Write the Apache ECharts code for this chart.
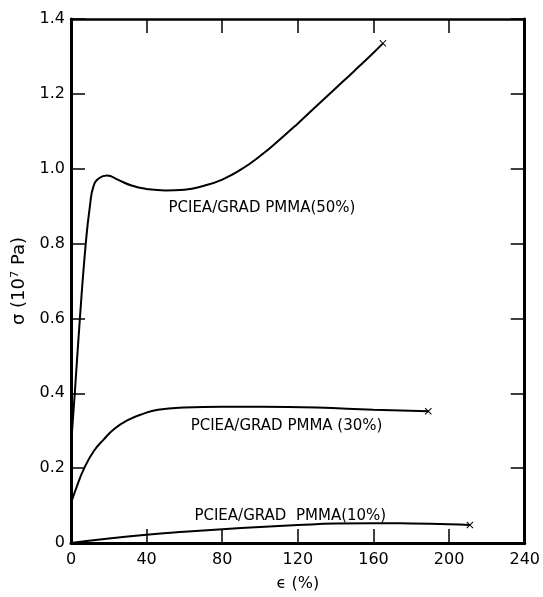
<!DOCTYPE html>
<html><head><meta charset="utf-8">
<script src="https://cdn.jsdelivr.net/npm/echarts@6/dist/echarts.min.js"></script>
<style>html,body{margin:0;padding:0;background:#fff}#c{width:543px;height:597px}</style>
</head><body><div id="c"></div>
<script>
// strain (%), stress (10^7 Pa)
const pmma50 = [[0,0.26],[2,0.4],[4.7,0.6],[7.8,0.8],[10,0.9],[12,0.955],[15,0.975],[19,0.982],[25,0.97],[32,0.955],[40,0.946],[50,0.942],[60,0.944],[70,0.954],[80,0.971],[90,0.998],[100,1.034],[110,1.076],[120,1.121],[130,1.168],[140,1.215],[150,1.262],[160,1.31],[165,1.335]];
const pmma30 = [[0,0.106],[3,0.15],[7,0.2],[12,0.245],[17,0.275],[23,0.305],[30,0.328],[38,0.345],[46,0.356],[60,0.362],[80,0.364],[100,0.364],[130,0.362],[160,0.356],[189,0.352]];
const pmma10 = [[0,0],[20,0.012],[40,0.022],[60,0.03],[80,0.037],[100,0.043],[120,0.048],[140,0.052],[160,0.053],[180,0.052],[200,0.05],[211,0.048]];
const seriesNames = ['PCIEA/GRAD PMMA(50%)','PCIEA/GRAD PMMA (30%)','PCIEA/GRAD  PMMA(10%)'];
const labelAnchors = [[101,0.894],[114,0.312],[116,0.071]];
const xTicks = [0,40,80,120,160,200,240];
const yTickLabels = ['0','0.2','0.4','0.6','0.8','1.0','1.2','1.4'];

const FONT = 'DejaVu Sans';
const cross = 'path://M0,1L1,0L5,4L9,0L10,1L6,5L10,9L9,10L5,6L1,10L0,9L4,5Z';
const chart = echarts.init(document.getElementById('c'));
function mk(data, name, anchor){
  return {
    type:'line', name, data, smooth:0.5, showSymbol:true,
    symbol:(v,p)=> p.dataIndex===data.length-1 ? cross : 'none',
    symbolSize:7,
    lineStyle:{color:'#000',width:2},
    itemStyle:{color:'#000'},
    animation:false,
    markPoint:{symbol:'circle',symbolSize:0,silent:true,
      data:[{coord:anchor,label:{show:true,formatter:name,color:'#000',fontFamily:FONT,fontSize:15,position:'inside'}}]}
  };
}
const s50 = mk(pmma50, seriesNames[0], labelAnchors[0]);
const s30 = mk(pmma30, seriesNames[1], labelAnchors[1]);
const s10 = mk(pmma10, seriesNames[2], labelAnchors[2]);
const tick = {inside:true,length:14,lineStyle:{color:'#000',width:1.5}};
chart.setOption({
  animation:false,
  grid:{left:71,right:10,top:19,bottom:49},
  xAxis:[{type:'value',min:0,max:240,interval:40,position:'bottom',
    name:'\u03F5 (%)',nameLocation:'middle',nameGap:33,
    nameTextStyle:{color:'#000',fontFamily:FONT,fontSize:16},
    axisLine:{onZero:false,lineStyle:{color:'#000',width:3}},
    axisTick:tick,
    axisLabel:{color:'#000',fontFamily:FONT,fontSize:16,margin:9,formatter:v=>xTicks.includes(v)?String(v):''},
    splitLine:{show:false}},
   {type:'value',min:0,max:240,interval:40,position:'top',
    axisLine:{onZero:false,lineStyle:{color:'#000',width:2.5}},
    axisTick:tick,
    axisLabel:{show:false},splitLine:{show:false}}],
  yAxis:[{type:'value',min:0,max:1.4,interval:0.2,position:'left',
    name:'\u03C3 (10\u2077 Pa)',nameLocation:'middle',nameGap:32,nameRotate:90,
    nameTextStyle:{color:'#000',fontFamily:FONT,fontSize:18},
    axisLine:{onZero:false,lineStyle:{color:'#000',width:3}},
    axisTick:tick,
    axisLabel:{color:'#000',fontFamily:FONT,fontSize:16,margin:6,formatter:(v)=>yTickLabels[Math.round(v/0.2)]},
    splitLine:{show:false}},
   {type:'value',min:0,max:1.4,interval:0.2,position:'right',
    axisLine:{onZero:false,lineStyle:{color:'#000',width:3}},
    axisTick:tick,
    axisLabel:{show:false},splitLine:{show:false}}],
  series:[s50,s30,s10]
});
</script></body></html>
